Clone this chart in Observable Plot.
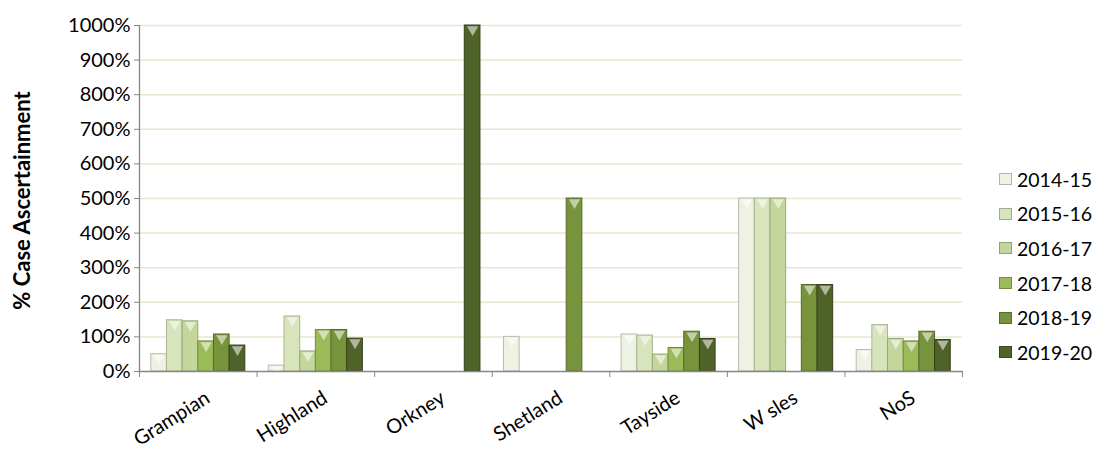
<!DOCTYPE html>
<html>
<head>
<meta charset="utf-8">
<script src="https://cdn.jsdelivr.net/npm/d3@7"></script>
<script src="https://cdn.jsdelivr.net/npm/@observablehq/plot@0.6"></script>
<style>
  html, body { margin: 0; padding: 0; background: #fff; }
  #wrap { position: relative; width: 1107px; height: 462px; font-family: Lato, "Open Sans", sans-serif; }
  #legend { position: absolute; left: 999px; top: 162px; font-size: 19.5px; color: #000; }
  .item { display: flex; align-items: center; height: 34.6px; }
  .sw { width: 13px; height: 12px; margin-right: 5px; box-sizing: border-box; border: 1px solid rgba(0,0,0,0.25); }
</style>
</head>
<body>
<div id="wrap"><div id="chart"></div><div id="legend"></div></div>
<script>
const regions = ["Grampian", "Highland", "Orkney", "Shetland", "Tayside", "W sles", "NoS"];
const years = ["2014-15", "2015-16", "2016-17", "2017-18", "2018-19", "2019-20"];
const v2014_15 = [50, 17, 0, 100, 107, 500, 62];
const v2015_16 = [148, 159, 0, 0, 104, 500, 134];
const v2016_17 = [145, 58, 0, 0, 49, 500, 94];
const v2017_18 = [87, 120, 0, 0, 68, 0, 87];
const v2018_19 = [107, 120, 0, 500, 115, 250, 115];
const v2019_20 = [75, 95, 1000, 0, 94, 250, 91];
const yTicks = [0, 100, 200, 300, 400, 500, 600, 700, 800, 900, 1000];
const colors = ["#eef2e2", "#d8e4bc", "#c3d69b", "#9bbb59", "#77933c", "#4f6228"];
const edges  = ["#b9bcae", "#a9b393", "#98a878", "#728a40", "#56692b", "#35421a"];

const series = [v2014_15, v2015_16, v2016_17, v2017_18, v2018_19, v2019_20];
const n = years.length;
const data = [];
regions.forEach((r, i) => {
  years.forEach((yr, j) => {
    const v = series[j][i];
    data.push({region: r, year: yr, value: v, x1: i + 0.1 + j * 0.8 / n, x2: i + 0.1 + (j + 1) * 0.8 / n, xc: i + 0.1 + (j + 0.5) * 0.8 / n});
  });
});
const nonzero = data.filter(d => d.value > 0);
const labels = regions.map((r, i) => ({name: r, x: i + 0.5}));

const chart = Plot.plot({
  width: 1107,
  height: 462,
  marginLeft: 139,
  marginRight: 145,
  marginTop: 25,
  marginBottom: 91,
  style: {fontFamily: "Lato, 'Open Sans', sans-serif", fontSize: "20px", color: "#000", background: "transparent"},
  x: {type: "linear", domain: [0, regions.length], axis: null},
  y: {domain: [0, 1000], axis: null},
  color: {domain: years, range: colors},
  marks: [
    Plot.ruleY(yTicks.filter(t => t > 0), {stroke: "#e6e8cf", strokeWidth: 1.5}),
    Plot.rectY(nonzero, {x1: "x1", x2: "x2", y: "value", fill: "year", stroke: d => edges[years.indexOf(d.year)], strokeWidth: 1}),
    Plot.dot(nonzero, {x: "xc", y: "value", symbol: "triangle", r: 4.2, rotate: 180, dy: 4, fill: "white", fillOpacity: 0.55}),
    Plot.ruleX([0], {stroke: "#868686", strokeWidth: 1.3}),
    Plot.ruleY([0], {stroke: "#868686", strokeWidth: 1.3}),
    Plot.axisY({ticks: yTicks, tickFormat: d => d + "%", tickSize: 5, tickPadding: 4, stroke: "#868686", fontSize: 20, label: null}),
    Plot.axisX({ticks: d3.range(regions.length + 1), tickFormat: () => "", tickSize: 6, stroke: "#868686", label: null}),
    Plot.text(labels, {x: "x", y: () => 0, text: "name", rotate: -32, textAnchor: "end", lineAnchor: "bottom", dx: 13, dy: 30, fontSize: 20}),
    Plot.text(["% Case Ascertainment"], {frameAnchor: "left", dx: -117, dy: 2, rotate: -90, textAnchor: "middle", fontWeight: "bold", fontSize: 22})
  ]
});
document.getElementById("chart").appendChild(chart);

const lg = d3.select("#legend");
years.forEach((yr, j) => {
  const it = lg.append("div").attr("class", "item");
  it.append("div").attr("class", "sw").style("background", colors[j]);
  it.append("span").text(yr);
});
</script>
</body>
</html>
